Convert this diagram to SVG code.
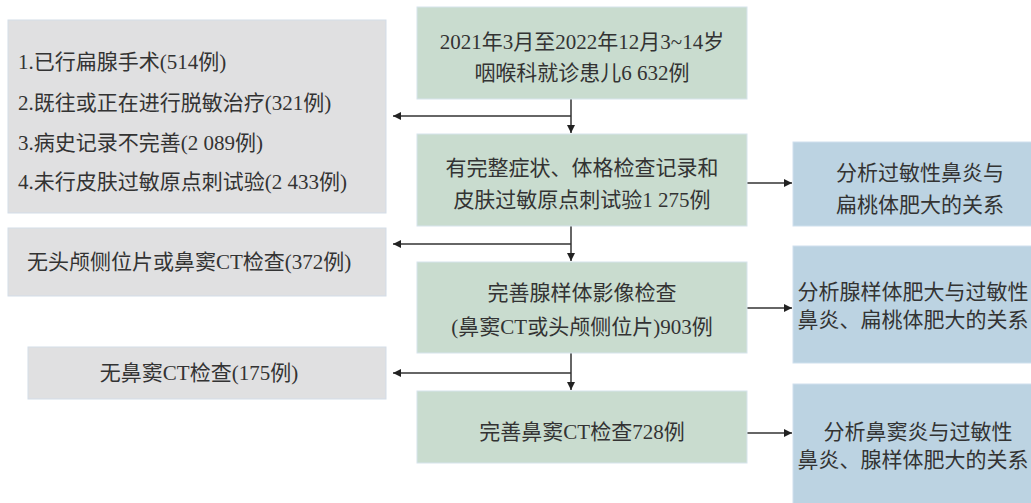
<svg xmlns="http://www.w3.org/2000/svg" width="1031" height="503" viewBox="0 0 1031 503">
<style>
.g{fill:#e0e0e1;stroke:#d3dde8;stroke-width:1}
.n{fill:#c9dccf;stroke:#d6e4ec;stroke-width:1}
.b{fill:#bcd3e2;stroke:#cfe0ee;stroke-width:1}
text{font-family:"Liberation Serif","Noto Sans CJK SC",serif;font-size:21px;fill:#333}
.c{text-anchor:middle}
.l{fill:none;stroke:#333;stroke-width:1.5}
</style>
<defs>
<marker id="ah" viewBox="0 0 10 10" refX="10" refY="5" markerWidth="8" markerHeight="8" markerUnits="userSpaceOnUse" orient="auto">
<path d="M0,0L10,5L0,10z" fill="#222"/>
</marker>
</defs>
<g id="connectors">
<path class="l" d="M571,99V133" marker-end="url(#ah)"/>
<path class="l" d="M571,116H393" marker-end="url(#ah)"/>
<path class="l" d="M571,226V261" marker-end="url(#ah)"/>
<path class="l" d="M571,244H393" marker-end="url(#ah)"/>
<path class="l" d="M571,353V390" marker-end="url(#ah)"/>
<path class="l" d="M571,373H393" marker-end="url(#ah)"/>
<path class="l" d="M747,183H792" marker-end="url(#ah)"/>
<path class="l" d="M747,308H792" marker-end="url(#ah)"/>
<path class="l" d="M747,433H792" marker-end="url(#ah)"/>
</g>
<g id="start">
<rect class="n" x="417" y="7" width="330" height="92"/>
<text class="c" x="582" y="49">2021年3月至2022年12月3~14岁</text>
<text class="c" x="582" y="80">咽喉科就诊患儿6 632例</text>
</g>
<g id="step1">
<rect class="n" x="417" y="134" width="330" height="92"/>
<text class="c" x="582" y="175">有完整症状、体格检查记录和</text>
<text class="c" x="582" y="207">皮肤过敏原点刺试验1 275例</text>
</g>
<g id="step2">
<rect class="n" x="417" y="262" width="330" height="91"/>
<text class="c" x="582" y="300">完善腺样体影像检查</text>
<text class="c" x="582" y="334">(鼻窦CT或头颅侧位片)903例</text>
</g>
<g id="step3">
<rect class="n" x="417" y="391" width="330" height="72"/>
<text class="c" x="582" y="439">完善鼻窦CT检查728例</text>
</g>
<g id="excl1">
<rect class="g" x="8" y="20" width="378" height="193"/>
<text x="18" y="69">1.已行扁腺手术(514例)</text>
<text x="18" y="110">2.既往或正在进行脱敏治疗(321例)</text>
<text x="18" y="150">3.病史记录不完善(2 089例)</text>
<text x="18" y="189">4.未行皮肤过敏原点刺试验(2 433例)</text>
</g>
<g id="excl2">
<rect class="g" x="8" y="228" width="378" height="68"/>
<text x="27" y="269">无头颅侧位片或鼻窦CT检查(372例)</text>
</g>
<g id="excl3">
<rect class="g" x="28" y="347" width="358" height="52"/>
<text class="c" x="199" y="380">无鼻窦CT检查(175例)</text>
</g>
<g id="res1">
<rect class="b" x="793" y="142" width="260" height="84"/>
<text class="c" x="920" y="180">分析过敏性鼻炎与</text>
<text class="c" x="920" y="212">扁桃体肥大的关系</text>
</g>
<g id="res2">
<rect class="b" x="793" y="246" width="260" height="117"/>
<text class="c" x="913" y="299">分析腺样体肥大与过敏性</text>
<text class="c" x="913" y="327">鼻炎、扁桃体肥大的关系</text>
</g>
<g id="res3">
<rect class="b" x="793" y="384" width="260" height="130"/>
<text class="c" x="918" y="439">分析鼻窦炎与过敏性</text>
<text class="c" x="913" y="467">鼻炎、腺样体肥大的关系</text>
</g>
</svg>
